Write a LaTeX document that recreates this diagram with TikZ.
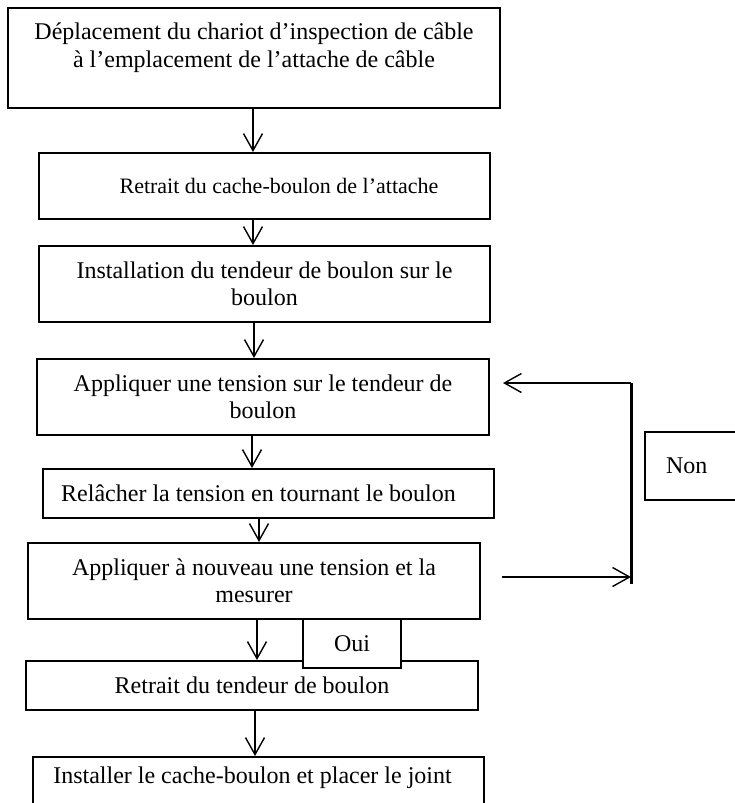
\documentclass[tikz,border=0pt]{standalone}
\usepackage{fontspec}
\setmainfont{Liberation Serif}
\usetikzlibrary{arrows.meta}
\tikzset{
  etape/.style={draw,line width=1pt,anchor=north west,align=center,inner sep=0pt,
    minimum width=225.5pt,font=\fontsize{12}{13.5}\selectfont},
  fleche/.style={line width=0.7pt,-{Straight Barb[length=8.5pt,width=9.5pt]}}
}
\begin{document}
\begin{tikzpicture}[x=0.5pt,y=-0.5pt]
  \useasboundingbox (0,0) rectangle (734,803);
  % boxes of the procedure
  \node[etape,minimum width=246pt,text height=29.5pt,text depth=20.5pt] (b1) at (7,7)
    {D\'eplacement du chariot d’inspection de c\^able\\
     \`a l’emplacement de l’attache de c\^able};
  \node[etape,minimum height=33pt,font=\fontsize{11}{13}\selectfont] (b2) at (38,152)
    {\hspace*{14.5pt}Retrait du cache-boulon de l’attache};
  \node[etape,minimum height=38pt] (b3) at (38,245) {Installation du tendeur de boulon sur le\\ boulon};
  \node[etape,minimum width=226pt,minimum height=38pt] (b4) at (36,358) {Appliquer une tension sur le tendeur de\\ boulon};
  \node[etape,minimum height=24.5pt] (b5) at (42,468) {Rel\^acher la tension en tournant le boulon\hspace*{10pt}};
  \node[etape,minimum width=226pt,minimum height=38pt] (b6) at (27,542) {Appliquer \`a nouveau une tension et la\\ mesurer};
  \node[etape,minimum width=226pt,minimum height=24.5pt] (b7) at (25,660) {Retrait du tendeur de boulon};
  \node[etape,minimum height=24.5pt,fill=white,minimum width=49pt] (oui) at (302,618) {Oui};
  \node[etape,text height=13pt,text depth=17pt] (b8) at (32,756) {Installer le cache-boulon et placer le joint\hspace*{6pt}};
  \node[etape,minimum width=62pt,minimum height=34pt,align=left,text width=62pt] (non) at (644,431)
    {\hspace*{10.5pt}Non};
  % arrows down the column
  \foreach \from/\to/\x in {b1/b2/253,b2/b3/253,b3/b4/254,b4/b5/252,b5/b6/259,b6/b7/257,b7/b8/255}
    \draw[fleche] (\from.south -| \x,0) -- (\to.north -| \x,0);
  % loop back when the tension is wrong
  \coordinate (haut) at (631,383);
  \coordinate (bas) at (631,584);
  \coordinate (depart) at (502,577);
  \draw[line width=1.5pt] (haut) -- (bas);
  \draw[fleche] (depart) -- (depart -| haut);
  \draw[fleche] (haut) -- (503,383);
\end{tikzpicture}
\end{document}
